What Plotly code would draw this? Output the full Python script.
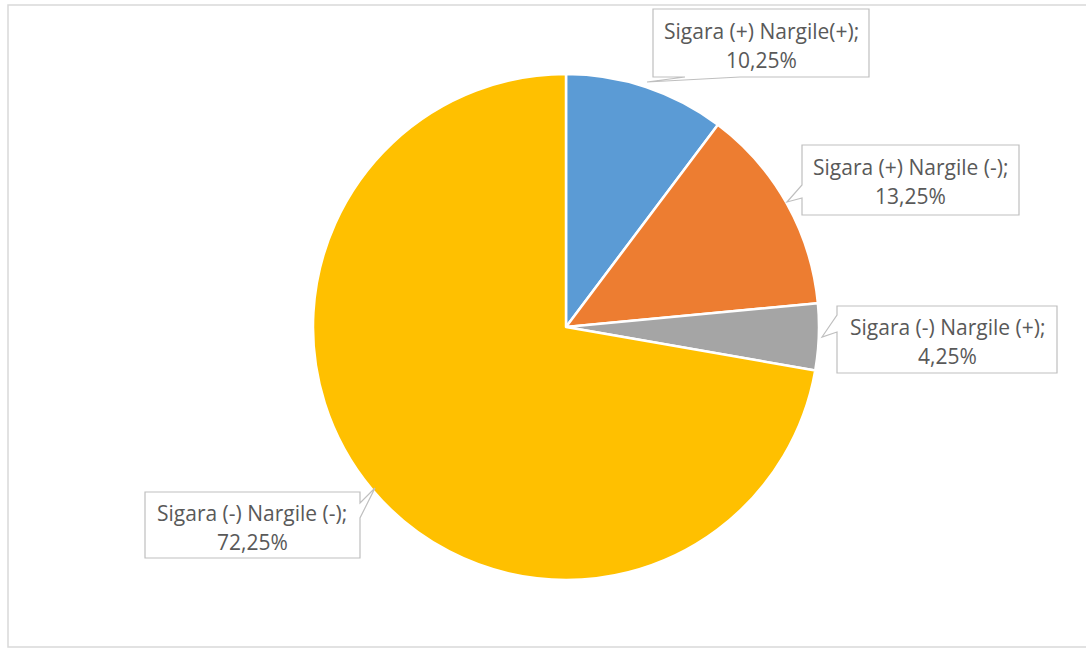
import plotly.graph_objects as go

labels = ["Sigara (+) Nargile(+)", "Sigara (+) Nargile (-)", "Sigara (-) Nargile (+)", "Sigara (-) Nargile (-)"]
values = [10.25, 13.25, 4.25, 72.25]
colors = ["#5B9BD5", "#ED7D31", "#A5A5A5", "#FFC000"]

W, H = 1086, 648

def px(x):
    return x / W

def py(y):
    return 1 - y / H

fig = go.Figure(go.Pie(
    labels=labels, values=values, sort=False, direction="clockwise", rotation=0,
    marker=dict(colors=colors, line=dict(color="white", width=2.5)),
    textinfo="none", hoverinfo="label+percent", showlegend=False,
    domain=dict(x=[px(313), px(819)], y=[py(580), py(74)]),
))

# callout boxes: polygon with tail, text center
callouts = [
    dict(cx=761, y1=31, y2=60,
         pts=[(653, 9), (869, 9), (869, 77), (740, 77), (647, 82), (685, 77), (653, 77)]),
    dict(cx=910, y1=167, y2=196,
         pts=[(802, 145), (1019, 145), (1019, 215), (802, 215), (802, 198), (787, 202), (802, 185)]),
    dict(cx=947, y1=327, y2=356,
         pts=[(837, 306), (1057, 306), (1057, 373), (837, 373), (837, 332), (822, 337), (837, 315)]),
    dict(cx=252, y1=513, y2=542,
         pts=[(145, 492), (360, 492), (360, 503), (375, 488), (360, 518), (360, 558), (145, 558)]),
]

shapes = [dict(type="rect", xref="paper", yref="paper", x0=px(8), x1=px(1092), y0=py(647), y1=py(5),
               line=dict(color="#D9D9D9", width=1.5), fillcolor="rgba(0,0,0,0)", layer="below")]
annotations = []
font = dict(family="Open Sans, Liberation Sans, sans-serif", size=21, color="#595959")
for lab, val, c in zip(labels, values, callouts):
    path = "M " + " L ".join(f"{px(x):.5f},{py(y):.5f}" for x, y in c["pts"]) + " Z"
    shapes.append(dict(type="path", xref="paper", yref="paper", path=path,
                       line=dict(color="#BFBFBF", width=1.2), fillcolor="white", layer="above"))
    pct = f"{val:.2f}".replace(".", ",") + "%"
    annotations.append(dict(x=px(c["cx"]), y=py(c["y1"]), xref="paper", yref="paper", text=lab + ";",
                            showarrow=False, font=font, xanchor="center", yanchor="middle"))
    annotations.append(dict(x=px(c["cx"]), y=py(c["y2"]), xref="paper", yref="paper", text=pct,
                            showarrow=False, font=font, xanchor="center", yanchor="middle"))

fig.update_layout(width=W, height=H, margin=dict(l=0, r=0, t=0, b=0),
                  paper_bgcolor="white", plot_bgcolor="white",
                  shapes=shapes, annotations=annotations)

fig.write_html("out.html")
